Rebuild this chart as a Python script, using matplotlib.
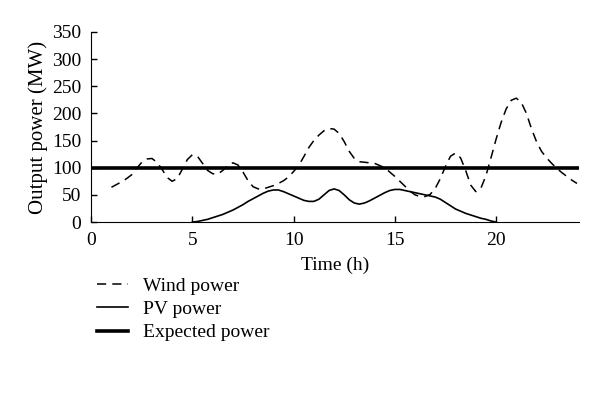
import matplotlib.pyplot as plt
import numpy as np

plt.rcParams["font.family"] = ["Liberation Serif", "DejaVu Serif"]

# hours (quarter-hour samples)
wind_t = np.arange(1, 24.01, 0.25)
wind_mw = [
    64, 69, 74, 80, 87, 99, 110, 116, 117, 110, 97, 82,
    75, 80, 97, 115, 124, 121, 108, 95, 89, 88, 95, 104,
    109, 105, 92, 76, 65, 61, 61, 64, 67, 71, 76, 83,
    93, 104, 120, 137, 150, 160, 168, 172, 171, 163, 148, 130,
    117, 111, 110, 109, 108, 104, 100, 92, 84, 75, 66, 57,
    50, 47, 47, 51, 62, 80, 102, 121, 127, 118, 95, 68,
    56, 62, 85, 118, 152, 183, 208, 224, 228, 220, 200, 172,
    148, 130, 118, 108, 99, 91, 84, 77, 71,
]

pv_t = np.arange(5, 20.01, 0.25)
pv_mw = [
    0, 1, 3, 5, 8, 11, 14, 18, 22, 27, 32, 38,
    43, 48, 53, 57, 59, 59, 56, 52, 48, 44, 40, 38,
    38, 42, 50, 58, 61, 58, 50, 41, 35, 33, 35, 39,
    44, 49, 54, 58, 60, 60, 58, 56, 54, 52, 50, 48,
    46, 42, 36, 30, 24, 20, 16, 13, 10, 7, 5, 2, 0,
]

expected_mw = 100

fig = plt.figure(figsize=(6, 3.93), dpi=100)
ax = fig.add_axes([0.152, 0.435, 0.813, 0.484])

ax.plot(wind_t, wind_mw, color="black", lw=1.1, dashes=(6, 4), label="Wind power")
ax.plot(pv_t, pv_mw, color="black", lw=1.2, label="PV power")
ax.axhline(expected_mw, color="black", lw=2.6, label="Expected power")

ax.set_xlim(0, 24.1)
ax.set_ylim(0, 350)
ax.set_xticks([0, 5, 10, 15, 20])
ax.set_yticks(range(0, 351, 50))
ax.tick_params(direction="in", length=4, width=1, labelsize=14, pad=7)
for side in ["top", "right"]:
    ax.spines[side].set_visible(False)
ax.set_xlabel("Time (h)", fontsize=14, labelpad=6)
ax.set_ylabel("Output power (MW)", fontsize=15, labelpad=3)

fig.legend(loc="upper left", bbox_to_anchor=(0.146, 0.32), frameon=False,
           fontsize=14, handlelength=1.6, handletextpad=0.75, labelspacing=0.3,
           borderpad=0)

fig.savefig("out.png", dpi=100)
